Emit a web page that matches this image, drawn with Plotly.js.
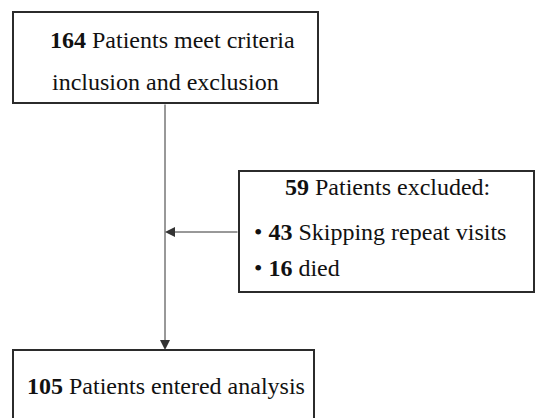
<!DOCTYPE html>
<html>
<head>
<meta charset="utf-8">
<script src="https://cdn.plot.ly/plotly-3.0.1.min.js"></script>
<style>html,body{margin:0;padding:0;background:#fff;}#chart{width:535px;height:418px;}</style>
</head>
<body>
<div id="chart"></div>
<script>
// Flow-chart content
const stageCounts = [164, 59, 105];
const stageLabels = ["Patients meet criteria", "Patients excluded:", "Patients entered analysis"];
const stageSubLabel = ["inclusion and exclusion", "", ""];
const excludedCounts = [43, 16];
const excludedReasons = ["Skipping repeat visits", "died"];

const W = 535, H = 418;
const txt = "#111111", border = "#2b2b2b";
const font = {family: "Liberation Serif", size: 24, color: txt};

// box geometry (layout only)
const boxes = [
  {x0: 13, x1: 318, y0: 12, y1: 103},
  {x0: 239, x1: 534, y0: 171, y1: 292},
  {x0: 13, x1: 314, y0: 350, y1: 430}
];
const shapes = boxes.map(b => ({type: "rect", xref: "x", yref: "y", x0: b.x0, x1: b.x1, y0: b.y0, y1: b.y1,
  line: {color: border, width: 2}, fillcolor: "rgba(0,0,0,0)"}));

const annotations = [];
function addText(x, y, text, anchor) {
  annotations.push({x: x, y: y, xref: "x", yref: "y", text: text, showarrow: false,
    xanchor: anchor, yanchor: "middle", font: font});
}
addText(172, 40, "<b>" + stageCounts[0] + "</b> " + stageLabels[0], "center");
addText(165, 82, stageSubLabel[0], "center");
addText(387, 187, "<b>" + stageCounts[1] + "</b> " + stageLabels[1], "center");
const rowY = [232, 268];
excludedCounts.forEach((c, i) => addText(252, rowY[i], "\u2022 <b>" + c + "</b> " + excludedReasons[i], "left"));
addText(166, 386, "<b>" + stageCounts[2] + "</b> " + stageLabels[2], "center");

// connectors with arrowheads
annotations.push({x: 165, y: 350, ax: 165, ay: 103, xref: "x", yref: "y", axref: "x", ayref: "y",
  text: "", showarrow: true, arrowhead: 2, arrowsize: 2, arrowwidth: 1, arrowcolor: "#333", standoff: 0});
annotations.push({x: 165, y: 232, ax: 239, ay: 232, xref: "x", yref: "y", axref: "x", ayref: "y",
  text: "", showarrow: true, arrowhead: 2, arrowsize: 2, arrowwidth: 1, arrowcolor: "#333", standoff: 0});

const layout = {
  width: W, height: H, margin: {l: 0, r: 0, t: 0, b: 0},
  paper_bgcolor: "#fff", plot_bgcolor: "#fff",
  xaxis: {range: [0, W], visible: false, fixedrange: true},
  yaxis: {range: [H, 0], visible: false, fixedrange: true},
  shapes: shapes, annotations: annotations, showlegend: false
};
Plotly.newPlot("chart", [], layout, {displayModeBar: false, staticPlot: true});
</script>
</body>
</html>
